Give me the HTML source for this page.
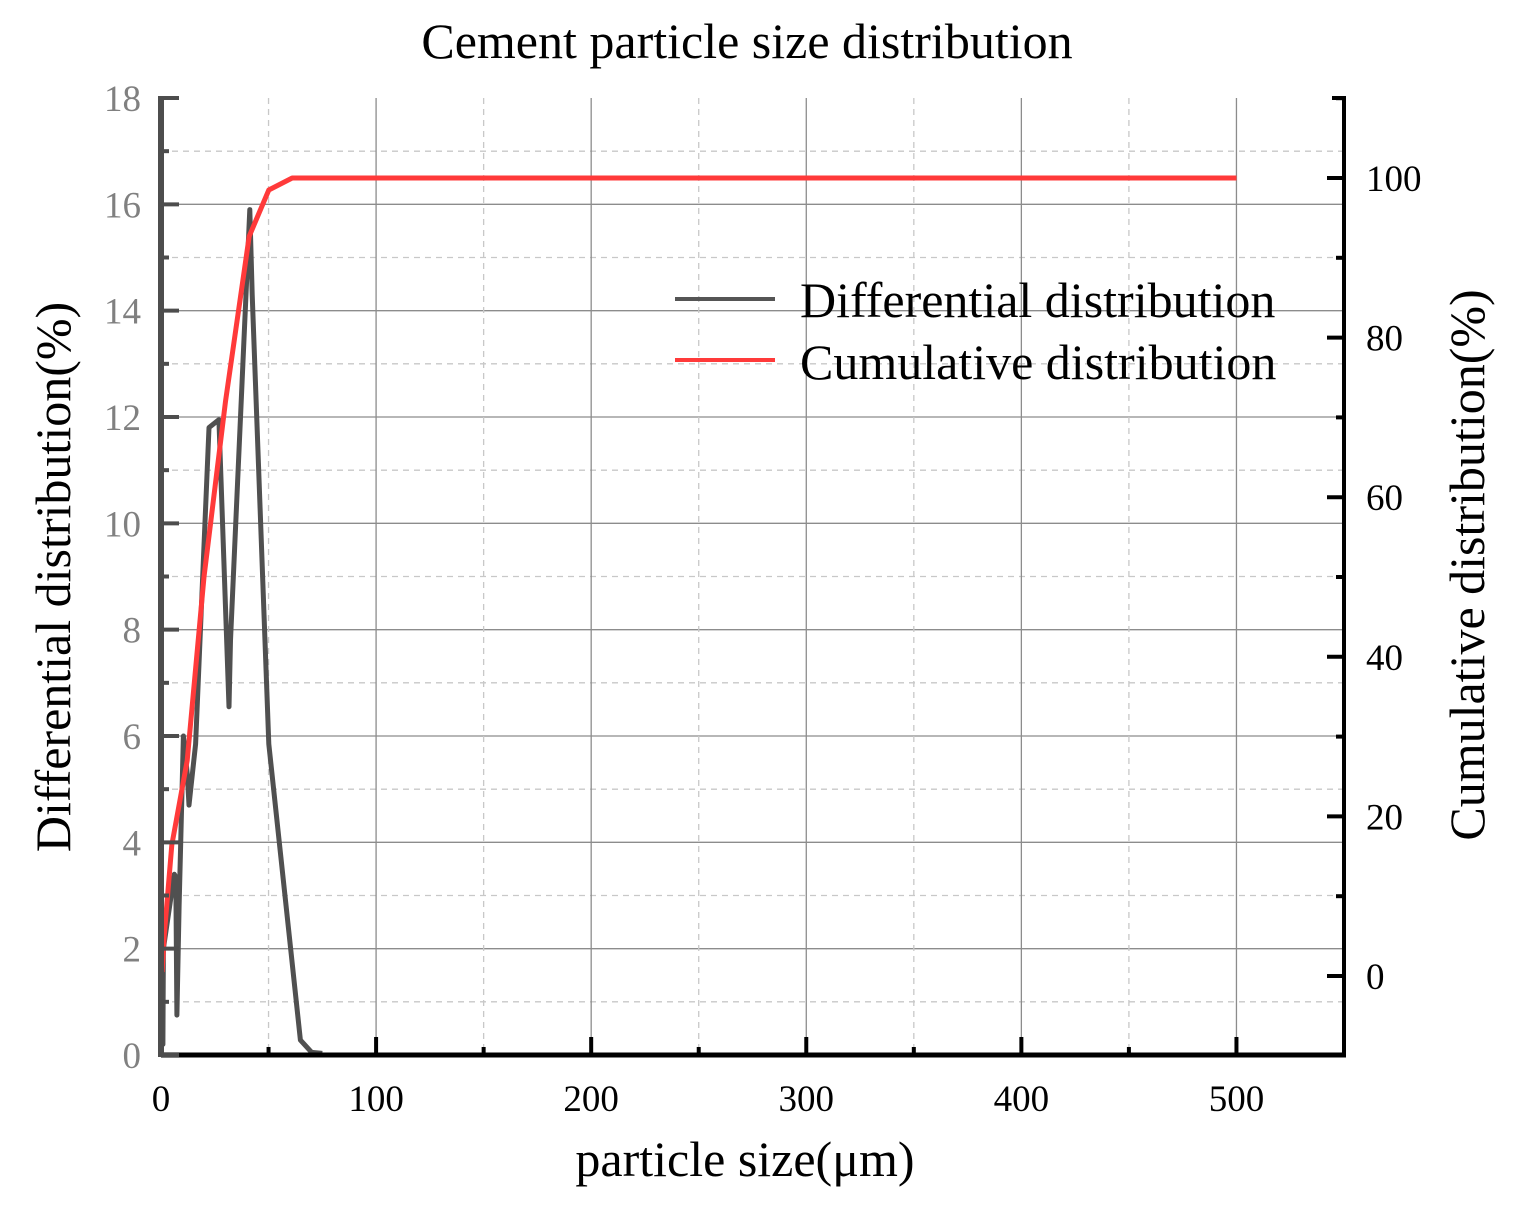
<!DOCTYPE html>
<html><head><meta charset="utf-8"><style>
html,body{margin:0;padding:0;background:#fff}
svg text{font-family:"Liberation Serif",serif}
</style></head><body>
<svg id="chart" width="1538" height="1218" xmlns="http://www.w3.org/2000/svg">
<text x="747" y="58" font-size="50" text-anchor="middle" fill="#000">Cement particle size distribution</text>
<g id="grid"></g><g id="series"></g><g id="axes"></g>
<g>
<line x1="675" y1="299" x2="775" y2="299" stroke="#555" stroke-width="4"/>
<text x="800" y="317" font-size="50">Differential distribution</text>
<line x1="675" y1="360" x2="775" y2="360" stroke="#ff3a3a" stroke-width="4"/>
<text x="800" y="379" font-size="50">Cumulative distribution</text>
</g>
<text x="745" y="1176" font-size="50" text-anchor="middle">particle size(μm)</text>
<text transform="translate(70,577) rotate(-90)" font-size="50" text-anchor="middle">Differential distribution(%)</text>
<text transform="translate(1484,565) rotate(-90)" font-size="50" text-anchor="middle">Cumulative distribution(%)</text>
</svg>
<script>
const diffX=[0,0.2,0.4,0.9,1.1,6.2,6.9,7.4,8.4,10.4,12.2,13.0,16.1,22.3,26.9,31.6,32.3,41.3,42.4,50.1,64.8,70,75];
const diffY=[0,0.2,1.4,0.2,2.0,3.4,3.35,0.75,2.8,6.0,5.3,4.7,5.85,11.8,11.95,6.55,7.8,15.9,14.3,5.85,0.28,0.05,0.03];
const cumX=[0.5,1.5,5,12.2,20,30,41,50.1,61,500];
const cumY=[0.5,5,16.4,27,50,72,92.7,98.5,100,100];
const xTicks=[0,100,200,300,400,500];
const yLeftTicks=[0,2,4,6,8,10,12,14,16,18];
const yRightTicks=[0,20,40,60,80,100];
const L=161,R=1344,T=98,B=1055;
const sx=v=>L+(v-0)*(R-L)/550;
const sy=v=>B-v*(B-T)/18;
const sr=v=>976-v*7.98;
const NS="http://www.w3.org/2000/svg";
function mk(p,t,a){const e=document.createElementNS(NS,t);for(const k in a)e.setAttribute(k,a[k]);p.appendChild(e);return e;}
const grid=document.getElementById('grid'),ser=document.getElementById('series'),ax=document.getElementById('axes');
for(let v=1;v<18;v++){const y=sy(v);const g=mk(grid,'line',{x1:L,x2:R,y1:y,y2:y,stroke:v%2?'#c8c8c8':'#8c8c8c','stroke-width':1.3,'stroke-dasharray':v%2?'6,5':'none'});

}
for(let v=50;v<550;v+=50){const x=sx(v);const g=mk(grid,'line',{x1:x,x2:x,y1:T,y2:B,stroke:v%100?'#c8c8c8':'#8c8c8c','stroke-width':1.3,'stroke-dasharray':v%100?'6,5':'none'});

}
let d=diffX.map((x,i)=>(i?'L':'M')+sx(x).toFixed(1)+','+sy(diffY[i]).toFixed(1)).join(' ');
const p1=mk(ser,'path',{d:d,fill:'none',stroke:'#505050','stroke-width':5,'stroke-linejoin':'round'});


d=cumX.map((x,i)=>(i?'L':'M')+sx(x).toFixed(1)+','+sr(cumY[i]).toFixed(1)).join(' ');
const p2=mk(ser,'path',{d:d,fill:'none',stroke:'#ff3a3a','stroke-width':5,'stroke-linejoin':'round'});


const a1=mk(ax,'line',{x1:R,x2:R,y1:T-2,y2:B+2,stroke:'#000','stroke-width':4});


mk(ax,'line',{x1:R-12,x2:R,y1:T,y2:T,stroke:'#000','stroke-width':4});
const a2=mk(ax,'line',{x1:L,x2:R+2,y1:B,y2:B,stroke:'#000','stroke-width':5});


const a3=mk(ax,'line',{x1:L,x2:L,y1:T-2,y2:B+2,stroke:'#4d4d4d','stroke-width':6});


for(let v=0;v<=18;v++){const y=sy(v);mk(ax,'line',{x1:L,x2:L+(v%2?8:18),y1:y,y2:y,stroke:'#4d4d4d','stroke-width':4});}
yLeftTicks.forEach(v=>{const t=mk(ax,'text',{x:L-20,y:sy(v)+13,'font-size':37,'text-anchor':'end',fill:'#808080'});t.textContent=v;

});
for(let v=50;v<=550;v+=50){const x=sx(v);mk(ax,'line',{x1:x,x2:x,y1:B,y2:B-(v%100?8:18),stroke:'#000','stroke-width':4});}
xTicks.forEach(v=>{const t=mk(ax,'text',{x:sx(v),y:1111,'font-size':37,'text-anchor':'middle',fill:'#000'});t.textContent=v;

});
for(let v=-10;v<=110;v+=10){const y=sr(v);if(y<T||y>B)continue;mk(ax,'line',{x1:R,x2:R-(v%20?8:17),y1:y,y2:y,stroke:'#000','stroke-width':4});}
yRightTicks.forEach(v=>{const t=mk(ax,'text',{x:R+22,y:sr(v)+13,'font-size':37,fill:'#000'});t.textContent=v;

});
</script>
</body></html>
